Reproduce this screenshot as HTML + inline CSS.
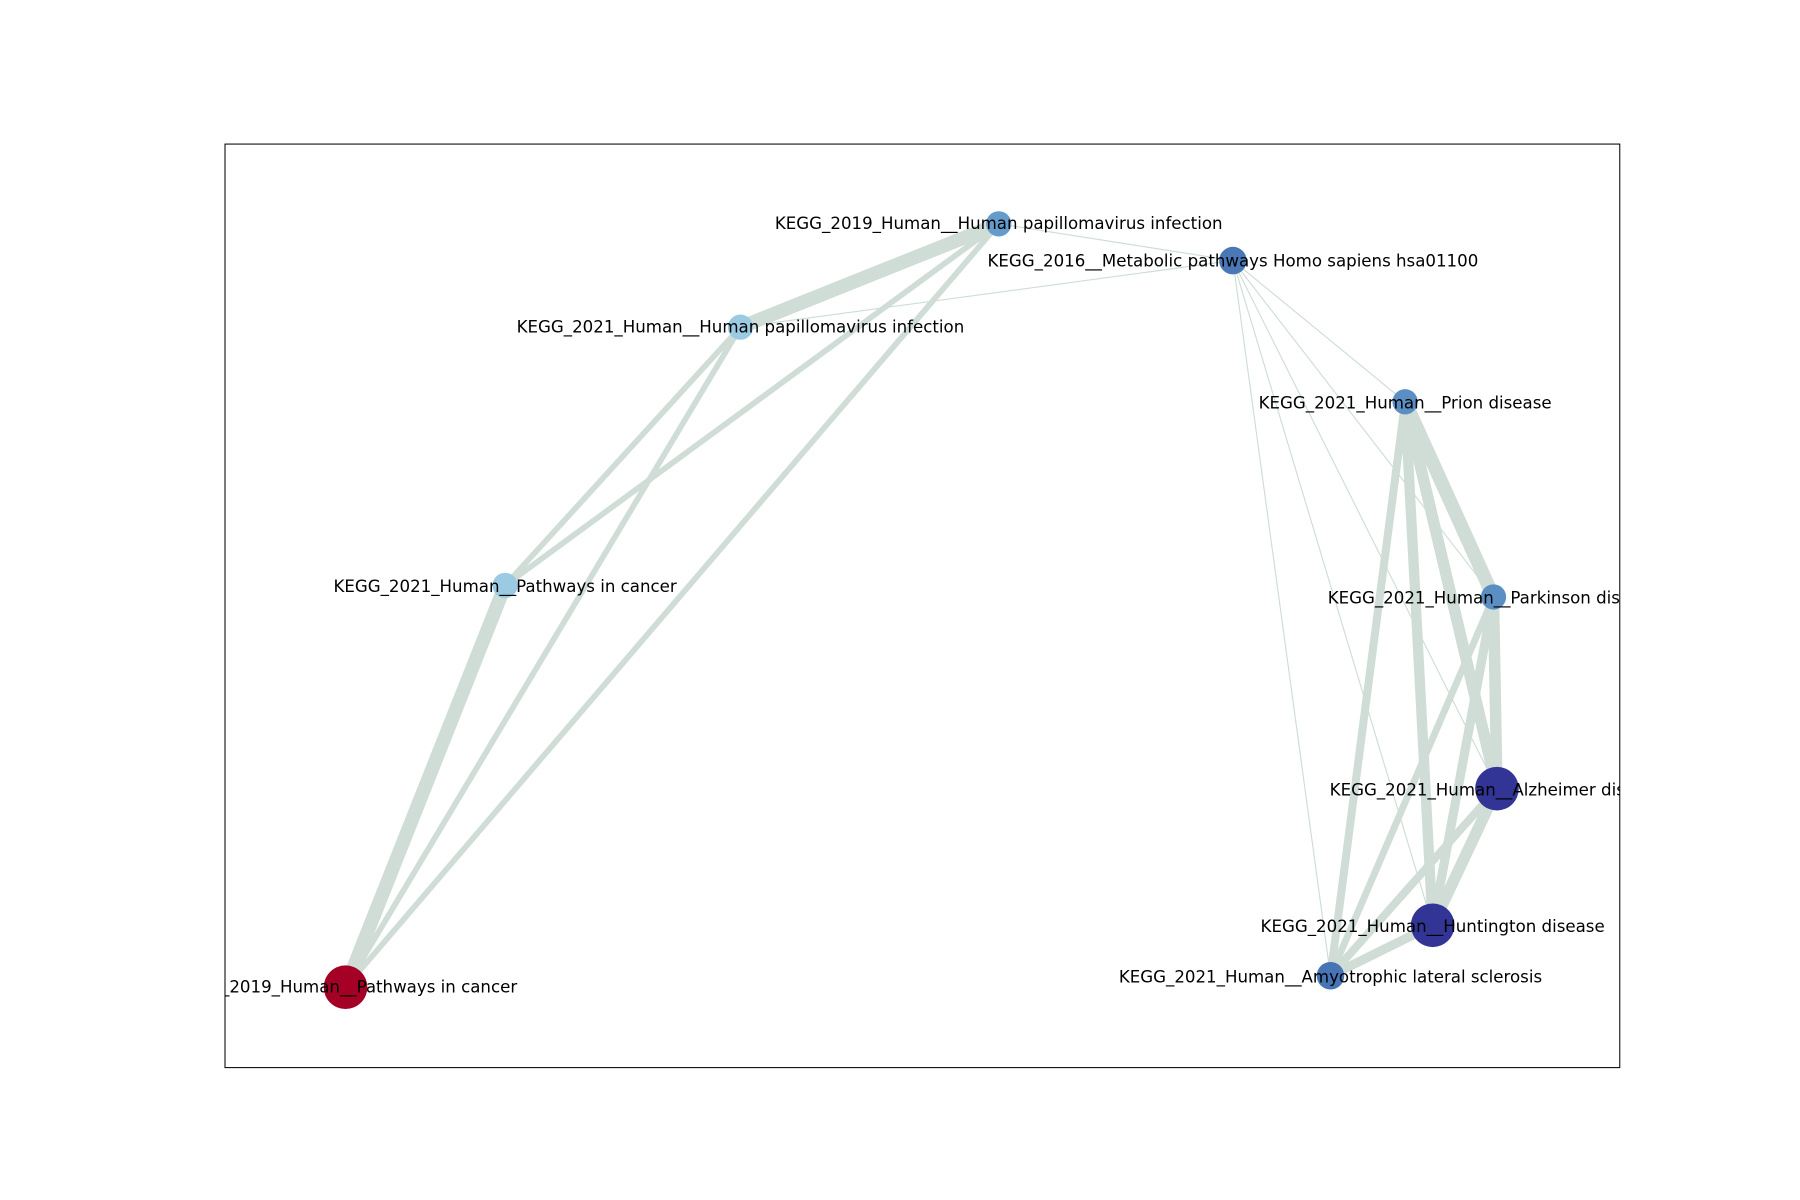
<!DOCTYPE html>
<html><head><meta charset="utf-8"><style>html,body{margin:0;padding:0;background:#fff;}svg{display:block}</style></head>
<body>
<svg width="1800" height="1200" viewBox="0 0 1568 1045.33" preserveAspectRatio="none" xmlns="http://www.w3.org/2000/svg">
<defs><clipPath id="ax"><rect x="196" y="125.5" width="1215" height="804.5"/></clipPath></defs>
<rect width="1568" height="1046" fill="#fff"/>
<g stroke="#cfddd6" stroke-linecap="round" fill="none">
<line x1="870" y1="195" x2="645" y2="285" stroke-width="12"/>
<line x1="870" y1="195" x2="1074" y2="227" stroke-width="1"/>
<line x1="645" y1="285" x2="1074" y2="227" stroke-width="1"/>
<line x1="870" y1="195" x2="440" y2="510" stroke-width="5"/>
<line x1="870" y1="195" x2="301" y2="860" stroke-width="5"/>
<line x1="645" y1="285" x2="440" y2="510" stroke-width="5"/>
<line x1="645" y1="285" x2="301" y2="860" stroke-width="5"/>
<line x1="440" y1="510" x2="301" y2="860" stroke-width="12"/>
<line x1="1074" y1="227" x2="1224" y2="350" stroke-width="1"/>
<line x1="1074" y1="227" x2="1301" y2="520" stroke-width="1"/>
<line x1="1074" y1="227" x2="1304" y2="687" stroke-width="1"/>
<line x1="1074" y1="227" x2="1248" y2="806" stroke-width="1"/>
<line x1="1074" y1="227" x2="1159" y2="850" stroke-width="1"/>
<line x1="1224" y1="350" x2="1301" y2="520" stroke-width="12"/>
<line x1="1224" y1="350" x2="1304" y2="687" stroke-width="10"/>
<line x1="1224" y1="350" x2="1248" y2="806" stroke-width="9"/>
<line x1="1224" y1="350" x2="1159" y2="850" stroke-width="7"/>
<line x1="1301" y1="520" x2="1304" y2="687" stroke-width="10"/>
<line x1="1301" y1="520" x2="1248" y2="806" stroke-width="8"/>
<line x1="1301" y1="520" x2="1159" y2="850" stroke-width="6"/>
<line x1="1304" y1="687" x2="1248" y2="806" stroke-width="10"/>
<line x1="1304" y1="687" x2="1159" y2="850" stroke-width="7"/>
<line x1="1248" y1="806" x2="1159" y2="850" stroke-width="8"/>
</g>
<g>
<circle cx="870" cy="195" r="11" fill="#659bcb"/>
<circle cx="1074" cy="227" r="12" fill="#4a78b6"/>
<circle cx="645" cy="285" r="11" fill="#9bcbe2"/>
<circle cx="1224" cy="350" r="11" fill="#5b8fc4"/>
<circle cx="440" cy="510" r="11" fill="#9bcbe2"/>
<circle cx="1301" cy="520" r="11" fill="#5b8fc4"/>
<circle cx="1304" cy="687" r="19" fill="#323595"/>
<circle cx="1248" cy="806" r="19" fill="#323595"/>
<circle cx="1159" cy="850" r="12" fill="#4674b5"/>
<circle cx="301" cy="860" r="19" fill="#a50026"/>
</g>
<g clip-path="url(#ax)" font-family="'DejaVu Sans', 'Liberation Sans', sans-serif" font-size="14.5" fill="#000" text-anchor="middle" dominant-baseline="central">
<text x="870" y="194.5">KEGG_2019_Human__Human papillomavirus infection</text>
<text x="1074" y="227.5">KEGG_2016__Metabolic pathways Homo sapiens hsa01100</text>
<text x="645" y="285">KEGG_2021_Human__Human papillomavirus infection</text>
<text x="1224" y="351">KEGG_2021_Human__Prion disease</text>
<text x="440" y="511">KEGG_2021_Human__Pathways in cancer</text>
<text x="1301" y="521">KEGG_2021_Human__Parkinson disease</text>
<text x="1304" y="688">KEGG_2021_Human__Alzheimer disease</text>
<text x="1248" y="807">KEGG_2021_Human__Huntington disease</text>
<text x="1159" y="851">KEGG_2021_Human__Amyotrophic lateral sclerosis</text>
<text x="301" y="860">KEGG_2019_Human__Pathways in cancer</text>
</g>
<rect x="196" y="125.5" width="1215" height="804.5" fill="none" stroke="#000" stroke-width="0.9"/>
</svg>
</body></html>
